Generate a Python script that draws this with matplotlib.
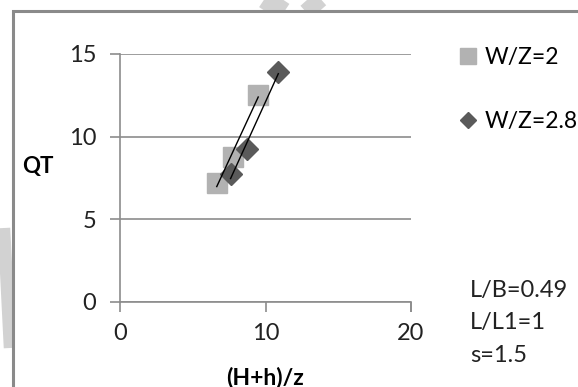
import numpy as np
import matplotlib
matplotlib.use("Agg")
from matplotlib import pyplot as plt
from matplotlib.lines import Line2D
from matplotlib.patches import Rectangle

plt.rcParams['font.family'] = ['Lato', 'DejaVu Sans']

# (H+h)/z and QT for the two W/Z ratios
x_wz2 = [6.65, 7.77, 9.5]
qt_wz2 = [7.18, 8.76, 12.53]
x_wz28 = [7.6, 8.73, 10.88]
qt_wz28 = [7.71, 9.26, 13.94]

series_labels = ["W/Z=2", "W/Z=2.8"]
x_ticks = [0, 10, 20]
y_ticks = [0, 5, 10, 15]
params_text = "L/B=0.49\nL/L1=1\ns=1.5"

grey_sq = "#b2b2b2"
grey_dm = "#5a5a5a"
axis_col = "#8c8c8c"
W, H = 578, 387


def px(x, y):
    # pixel position (from top-left) -> figure fraction
    return x / W, 1 - y / H


fig = plt.figure(figsize=(W / 100, H / 100), dpi=100)

# faint watermark strokes behind the chart
wm = "#d2d2d2"
for (x0, y0), (x1, y1), lw in [((260, -4), (284, 12), 14), ((324, -4), (306, 12), 12),
                               ((4, 228), (10, 348), 9)]:
    a, b = px(x0, y0)
    c, d = px(x1, y1)
    fig.add_artist(Line2D([a, c], [b, d], transform=fig.transFigure,
                          color=wm, linewidth=lw, solid_capstyle="butt", zorder=0))

# chart frame running off the right and bottom edges
fx, fy = px(13, 11)
fig.add_artist(Rectangle((fx, -0.05), 1.0, fy + 0.05, transform=fig.transFigure,
                         facecolor="white", edgecolor="#8a8a8a", linewidth=2.2, zorder=1))

ax = fig.add_axes([120 / W, 1 - 301.7 / H, 291 / W, 247.7 / H])
ax.set_zorder(2)
ax.patch.set_alpha(0)

ax.plot(x_wz2, qt_wz2, linestyle="none", marker="s", markersize=14.4,
        color=grey_sq, label=series_labels[0], zorder=3)
ax.plot(x_wz28, qt_wz28, linestyle="none", marker="D", markersize=10.8,
        color=grey_dm, label=series_labels[1], zorder=4)

# linear trendlines over each series' range
for xs, ys in [(x_wz2, qt_wz2), (x_wz28, qt_wz28)]:
    k, b = np.polyfit(xs, ys, 1)
    xx = np.array([min(xs), max(xs)])
    ax.plot(xx, k * xx + b, color="black", linewidth=1.0, zorder=5)

ax.set_xlim(0, 20)
ax.set_ylim(0, 15)
ax.set_xticks(x_ticks)
ax.set_yticks(y_ticks)
ax.yaxis.grid(True, color=axis_col, linewidth=1.2)
ax.set_axisbelow(True)
for s in ["top", "right"]:
    ax.spines[s].set_visible(False)
for s in ["left", "bottom"]:
    ax.spines[s].set_color(axis_col)
    ax.spines[s].set_linewidth(1.2)
ax.tick_params(axis="both", direction="out", length=7.2, width=1.2,
               color=axis_col, labelsize=17, labelcolor="#222222")
ax.tick_params(axis="x", pad=8)
ax.tick_params(axis="y", pad=10)
# closing tick at the right end of the x axis
ax.plot([1], [0], transform=ax.transAxes, marker=3, markersize=7.2,
        markeredgewidth=1.2, color=axis_col, clip_on=False)

ax.set_xlabel("(H+h)/z", fontsize=16.5, fontweight="bold", va="center")
ax.xaxis.set_label_coords((265 - 120) / 291, (301.7 - 377) / 247.7)
ax.set_ylabel("QT", fontsize=16, fontweight="bold", rotation=0, va="center", ha="center")
ax.yaxis.set_label_coords((38 - 120) / 291, (301.7 - 166) / 247.7)

handles = [Line2D([], [], linestyle="none", marker="s", markersize=12.2, color=grey_sq),
           Line2D([], [], linestyle="none", marker="D", markersize=8.5, color=grey_dm)]
fig.legend(handles, series_labels, loc="upper left", bbox_to_anchor=px(445, 36),
           frameon=False, fontsize=16.5, handlelength=1.0, handletextpad=0.25,
           labelspacing=1.85, borderpad=0)

tx, ty = px(470, 323)
fig.text(tx, ty, params_text, fontsize=17, va="center", ha="left",
         linespacing=1.68, color="#222222")

fig.savefig("out.png", dpi=100)
